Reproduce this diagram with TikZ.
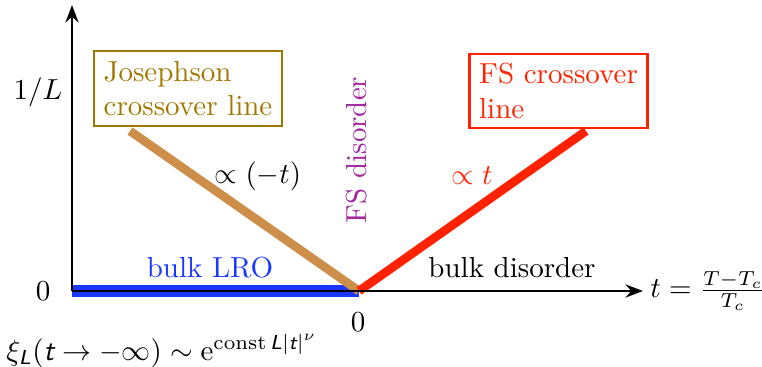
\documentclass[tikz,border=0pt]{standalone}
\usepackage{amsmath}
\usepackage{tikz}
\usetikzlibrary{arrows.meta, positioning}

\definecolor{josecol}{RGB}{205,142,74}
\definecolor{josetext}{RGB}{160,120,0}
\definecolor{fscol}{RGB}{255,34,0}
\definecolor{lrocol}{RGB}{25,55,255}
\definecolor{dispurple}{RGB}{160,40,160}

\newcommand{\sfvar}[1]{\textsf{\itshape #1}}

\begin{document}
\begin{tikzpicture}[x=0.345pt, y=0.345pt,
    axis/.style      = {-{Stealth[length=6pt,width=4.5pt]}, line width=1pt, black},
    crossline/.style = {line width=3pt},
    box/.style       = {rectangle, draw, thick, align=left, inner sep=3.3pt},
    lbl/.style       = {inner sep=1pt},
]
\useasboundingbox (0,0) rectangle (762,366);

% Koordinaten
\coordinate (o)    at (72,75);
\coordinate (xend) at (643,75);
\coordinate (yend) at (72,361);
\coordinate (c)    at (359,75);
\coordinate (js)   at (130,235);
\coordinate (fe)   at (586,235);

% Linien
\draw[crossline, lrocol, line width=3.8pt] (o) -- (c);
\draw[crossline, josecol] (js) -- (c);
\draw[crossline, fscol] (c) -- (fe);

% Achsen
\draw[axis] (o) -- (xend);
\draw[axis] (o) -- (yend);

% Achsenbeschriftung
\node[lbl] (invl)  at (38,274) {$1/L$};
\node[lbl] (zeroy) at (43,75)  {$0$};
\node[lbl] (zerox) at (358,44) {$0$};
\node[lbl, anchor=west] (tdef) at (647,75) {$t=\frac{T-T_c}{T_c}$};

% Kästen
\node[box, draw=josetext, text=josetext] (jbox) at (188,277.5) {Josephson\\crossover line};
\node[box, draw=fscol, text=fscol] (fsbox) at (558.5,275) {FS crossover\\line};

% Beschriftungen
\node[lbl] (propm) at (258,190) {$\propto(-t)$};
\node[lbl, text=fscol] (propt) at (472,190) {$\propto t$};
\node[lbl, text=dispurple, rotate=90] (fsdis) at (357,216) {FS disorder};
\node[lbl, text=lrocol] (lro) at (210,98) {bulk LRO};
\node[lbl] (bdis) at (512,98) {bulk disorder};
\node[lbl, anchor=west] (xi) at (3,15)
  {$\xi_{\sfvar{L}}(\sfvar{t}\to-\infty)\sim\mathrm{e}^{\mathrm{const}\,\sfvar{L}|\sfvar{t}|^\nu}$};

\end{tikzpicture}
\end{document}
